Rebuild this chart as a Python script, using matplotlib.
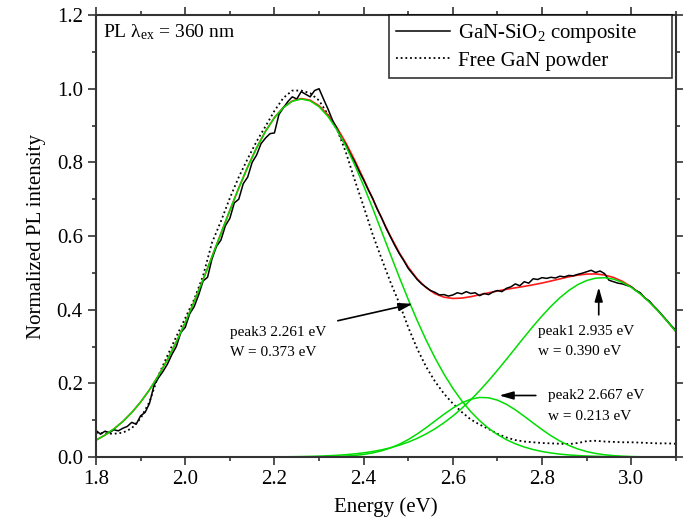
import numpy as np
import matplotlib
matplotlib.use("Agg")
import matplotlib.pyplot as plt
from matplotlib.ticker import MultipleLocator

plt.rcParams['font.family'] = ['Liberation Serif', 'DejaVu Serif']
plt.rcParams['mathtext.fontset'] = 'custom'
plt.rcParams['mathtext.rm'] = 'Liberation Serif'
plt.rcParams['mathtext.it'] = 'Liberation Serif:italic'

# energy grids (eV)
energy_fit = np.linspace(1.80, 3.10, 66)     # step 0.02
energy_meas = np.linspace(1.80, 3.10, 131)   # step 0.01

# Gaussian components (step 0.02)
peak3 = [0.0458, 0.0594, 0.0761, 0.0963, 0.1206, 0.1493, 0.1827, 0.2210, 0.2643, 0.3124,
         0.3651, 0.4218, 0.4817, 0.5438, 0.6069, 0.6697, 0.7304, 0.7875, 0.8394, 0.8845,
         0.9214, 0.9488, 0.9659, 0.9720, 0.9670, 0.9510, 0.9246, 0.8886, 0.8443, 0.7930,
         0.7363, 0.6759, 0.6132, 0.5501, 0.4878, 0.4276, 0.3706, 0.3175, 0.2689, 0.2251,
         0.1863, 0.1524, 0.1233, 0.0986, 0.0779, 0.0609, 0.0470, 0.0359, 0.0271, 0.0202,
         0.0149, 0.0109, 0.0078, 0.0056, 0.0039, 0.0027, 0.0019, 0.0013, 0.0009, 0.0006,
         0.0004, 0.0002, 0.0002, 0.0001, 0.0001, 0.0000]
peak1 = [0, 0, 0, 0, 0, 0, 0, 0, 0, 0,
         0, 0, 0, 0, 0, 0, 0, 0.0001, 0.0002, 0.0003,
         0.0004, 0.0006, 0.0008, 0.0012, 0.0017, 0.0024, 0.0034, 0.0046, 0.0063, 0.0085,
         0.0113, 0.0149, 0.0194, 0.0251, 0.0320, 0.0404, 0.0506, 0.0626, 0.0766, 0.0929,
         0.1113, 0.1321, 0.1551, 0.1802, 0.2071, 0.2356, 0.2652, 0.2954, 0.3256, 0.3551,
         0.3832, 0.4093, 0.4325, 0.4523, 0.4680, 0.4792, 0.4856, 0.4868, 0.4830, 0.4742,
         0.4607, 0.4429, 0.4213, 0.3966, 0.3694, 0.3404]
peak2 = [0, 0, 0, 0, 0, 0, 0, 0, 0, 0,
         0, 0, 0, 0, 0, 0, 0, 0, 0, 0,
         0, 0, 0, 0.0001, 0.0002, 0.0004, 0.0008, 0.0015, 0.0025, 0.0043,
         0.0070, 0.0110, 0.0167, 0.0245, 0.0347, 0.0474, 0.0625, 0.0796, 0.0978, 0.1160,
         0.1329, 0.1470, 0.1569, 0.1617, 0.1608, 0.1544, 0.1431, 0.1281, 0.1106, 0.0923,
         0.0743, 0.0577, 0.0433, 0.0314, 0.0219, 0.0148, 0.0096, 0.0061, 0.0037, 0.0022,
         0.0012, 0.0007, 0.0003, 0.0002, 0.0001, 0.0000]
cum_fit = [0.0458, 0.0594, 0.0761, 0.0963, 0.1206, 0.1493, 0.1827, 0.2210, 0.2643, 0.3124,
           0.3651, 0.4218, 0.4817, 0.5438, 0.6069, 0.6697, 0.7304, 0.7876, 0.8396, 0.8848,
           0.9218, 0.9494, 0.9667, 0.9733, 0.9689, 0.9538, 0.9288, 0.8947, 0.8531, 0.8058,
           0.7546, 0.7018, 0.6493, 0.5997, 0.5545, 0.5154, 0.4837, 0.4597, 0.4433, 0.4340,
           0.4305, 0.4315, 0.4353, 0.4405, 0.4458, 0.4509, 0.4553, 0.4594, 0.4633, 0.4676,
           0.4724, 0.4779, 0.4836, 0.4893, 0.4938, 0.4967, 0.4971, 0.4942, 0.4876, 0.4770,
           0.4623, 0.4438, 0.4218, 0.3969, 0.3696, 0.3404]

# free GaN powder (step 0.02)
free_gan = [0.066, 0.064, 0.063, 0.066, 0.078, 0.105, 0.150, 0.222, 0.275, 0.327,
            0.377, 0.428, 0.492, 0.582, 0.640, 0.703, 0.760, 0.810, 0.857, 0.898,
            0.940, 0.975, 0.995, 0.995, 0.988, 0.968, 0.930, 0.890, 0.828, 0.752,
            0.680, 0.605, 0.539, 0.475, 0.417, 0.352, 0.294, 0.245, 0.205, 0.172,
            0.145, 0.122, 0.102, 0.088, 0.076, 0.063, 0.053, 0.046, 0.042, 0.040,
            0.038, 0.037, 0.036, 0.035, 0.038, 0.043, 0.044, 0.042, 0.041, 0.040,
            0.040, 0.039, 0.038, 0.037, 0.037, 0.036]

# GaN-SiO2 composite (step 0.01)
composite = [0.072, 0.062, 0.070, 0.066, 0.074, 0.071, 0.078, 0.083, 0.094, 0.089,
             0.112, 0.121, 0.146, 0.195, 0.215, 0.232, 0.252, 0.278, 0.300, 0.338,
             0.352, 0.389, 0.408, 0.440, 0.478, 0.488, 0.538, 0.572, 0.589, 0.628,
             0.648, 0.690, 0.700, 0.742, 0.760, 0.800, 0.820, 0.851, 0.866, 0.878,
             0.880, 0.930, 0.948, 0.965, 0.978, 0.972, 0.992, 0.985, 0.978, 0.995,
             1.000, 0.972, 0.945, 0.915, 0.892, 0.865, 0.848, 0.822, 0.801, 0.775,
             0.752, 0.726, 0.703, 0.674, 0.650, 0.622, 0.598, 0.574, 0.552, 0.533,
             0.512, 0.497, 0.482, 0.470, 0.461, 0.452, 0.447, 0.440, 0.441, 0.437,
             0.440, 0.446, 0.443, 0.449, 0.444, 0.446, 0.438, 0.444, 0.441, 0.448,
             0.452, 0.449, 0.458, 0.462, 0.470, 0.465, 0.476, 0.472, 0.484, 0.482,
             0.487, 0.485, 0.488, 0.486, 0.491, 0.489, 0.493, 0.492, 0.496, 0.499,
             0.503, 0.507, 0.501, 0.505, 0.498, 0.480, 0.476, 0.472, 0.470, 0.466,
             0.462, 0.452, 0.446, 0.432, 0.424, 0.410, 0.398, 0.384, 0.370, 0.356,
             0.344]

green = '#00dd00'

fig = plt.figure(figsize=(6.83, 5.23), dpi=100)
ax = fig.add_axes([0.1406, 0.1262, 0.849, 0.845])

ax.plot(energy_fit, free_gan, color='black', lw=1.3, linestyle=(0, (1, 1.6)),
        label='Free GaN powder')
ax.plot(energy_fit, cum_fit, color='#ff1a1a', lw=1.2)
ax.plot(energy_meas, composite, color='black', lw=1.1, label='GaN-SiO$_2$ composite')
for comp in (peak3, peak1, peak2):
    ax.plot(energy_fit, comp, color=green, lw=1.1)

ax.set_xlim(1.8, 3.1)
ax.set_ylim(0, 1.2)
ax.xaxis.set_major_locator(MultipleLocator(0.2))
ax.xaxis.set_minor_locator(MultipleLocator(0.1))
ax.yaxis.set_major_locator(MultipleLocator(0.2))
ax.yaxis.set_minor_locator(MultipleLocator(0.1))
ax.tick_params(which='both', direction='out', top=True, right=True,
               width=1.2, color='#333333', labelsize=15)
ax.tick_params(which='major', length=6)
ax.tick_params(which='minor', length=3)
for s in ax.spines.values():
    s.set_color('#333333')
    s.set_linewidth(1.5)

ax.set_xlabel('Energy (eV)', fontsize=15, labelpad=6)
ax.set_ylabel('Normalized PL intensity', fontsize=15, labelpad=8)

# legend box spans a fixed width, entries left aligned
handles, labels = ax.get_legend_handles_labels()
leg = ax.legend(handles[::-1], labels[::-1], loc='upper left',
                bbox_to_anchor=(0.505, 0.0, 0.488, 1.0), mode='expand',
                borderaxespad=0, fontsize=15, frameon=True, fancybox=False,
                handlelength=2.6, handletextpad=0.35, labelspacing=0.28,
                borderpad=0.35)
leg.get_frame().set_edgecolor('black')
leg.get_frame().set_linewidth(1.2)

ax.text(1.815, 1.153, 'PL λ$_{\\mathrm{ex}}$ = 360 nm', fontsize=14, va='center', ha='left')

ann = dict(fontsize=11, ha='left', va='center')
ax.text(2.101, 0.337, 'peak3 2.261 eV', **ann)
ax.text(2.101, 0.283, 'W = 0.373 eV', **ann)
ax.text(2.790, 0.340, 'peak1 2.935 eV', **ann)
ax.text(2.790, 0.286, 'w = 0.390 eV', **ann)
ax.text(2.813, 0.168, 'peak2 2.667 eV', **ann)
ax.text(2.813, 0.110, 'w = 0.213 eV', **ann)

arrow = dict(arrowstyle='-|>,head_length=0.7,head_width=0.2', color='black', lw=1.2,
             mutation_scale=12, shrinkA=0, shrinkB=0)
ax.annotate('', xy=(2.510, 0.416), xytext=(2.342, 0.370), arrowprops=arrow)
ax.annotate('', xy=(2.927, 0.461), xytext=(2.927, 0.386), arrowprops=arrow)
ax.annotate('', xy=(2.704, 0.167), xytext=(2.786, 0.167), arrowprops=arrow)

fig.savefig('out.png', dpi=100)
